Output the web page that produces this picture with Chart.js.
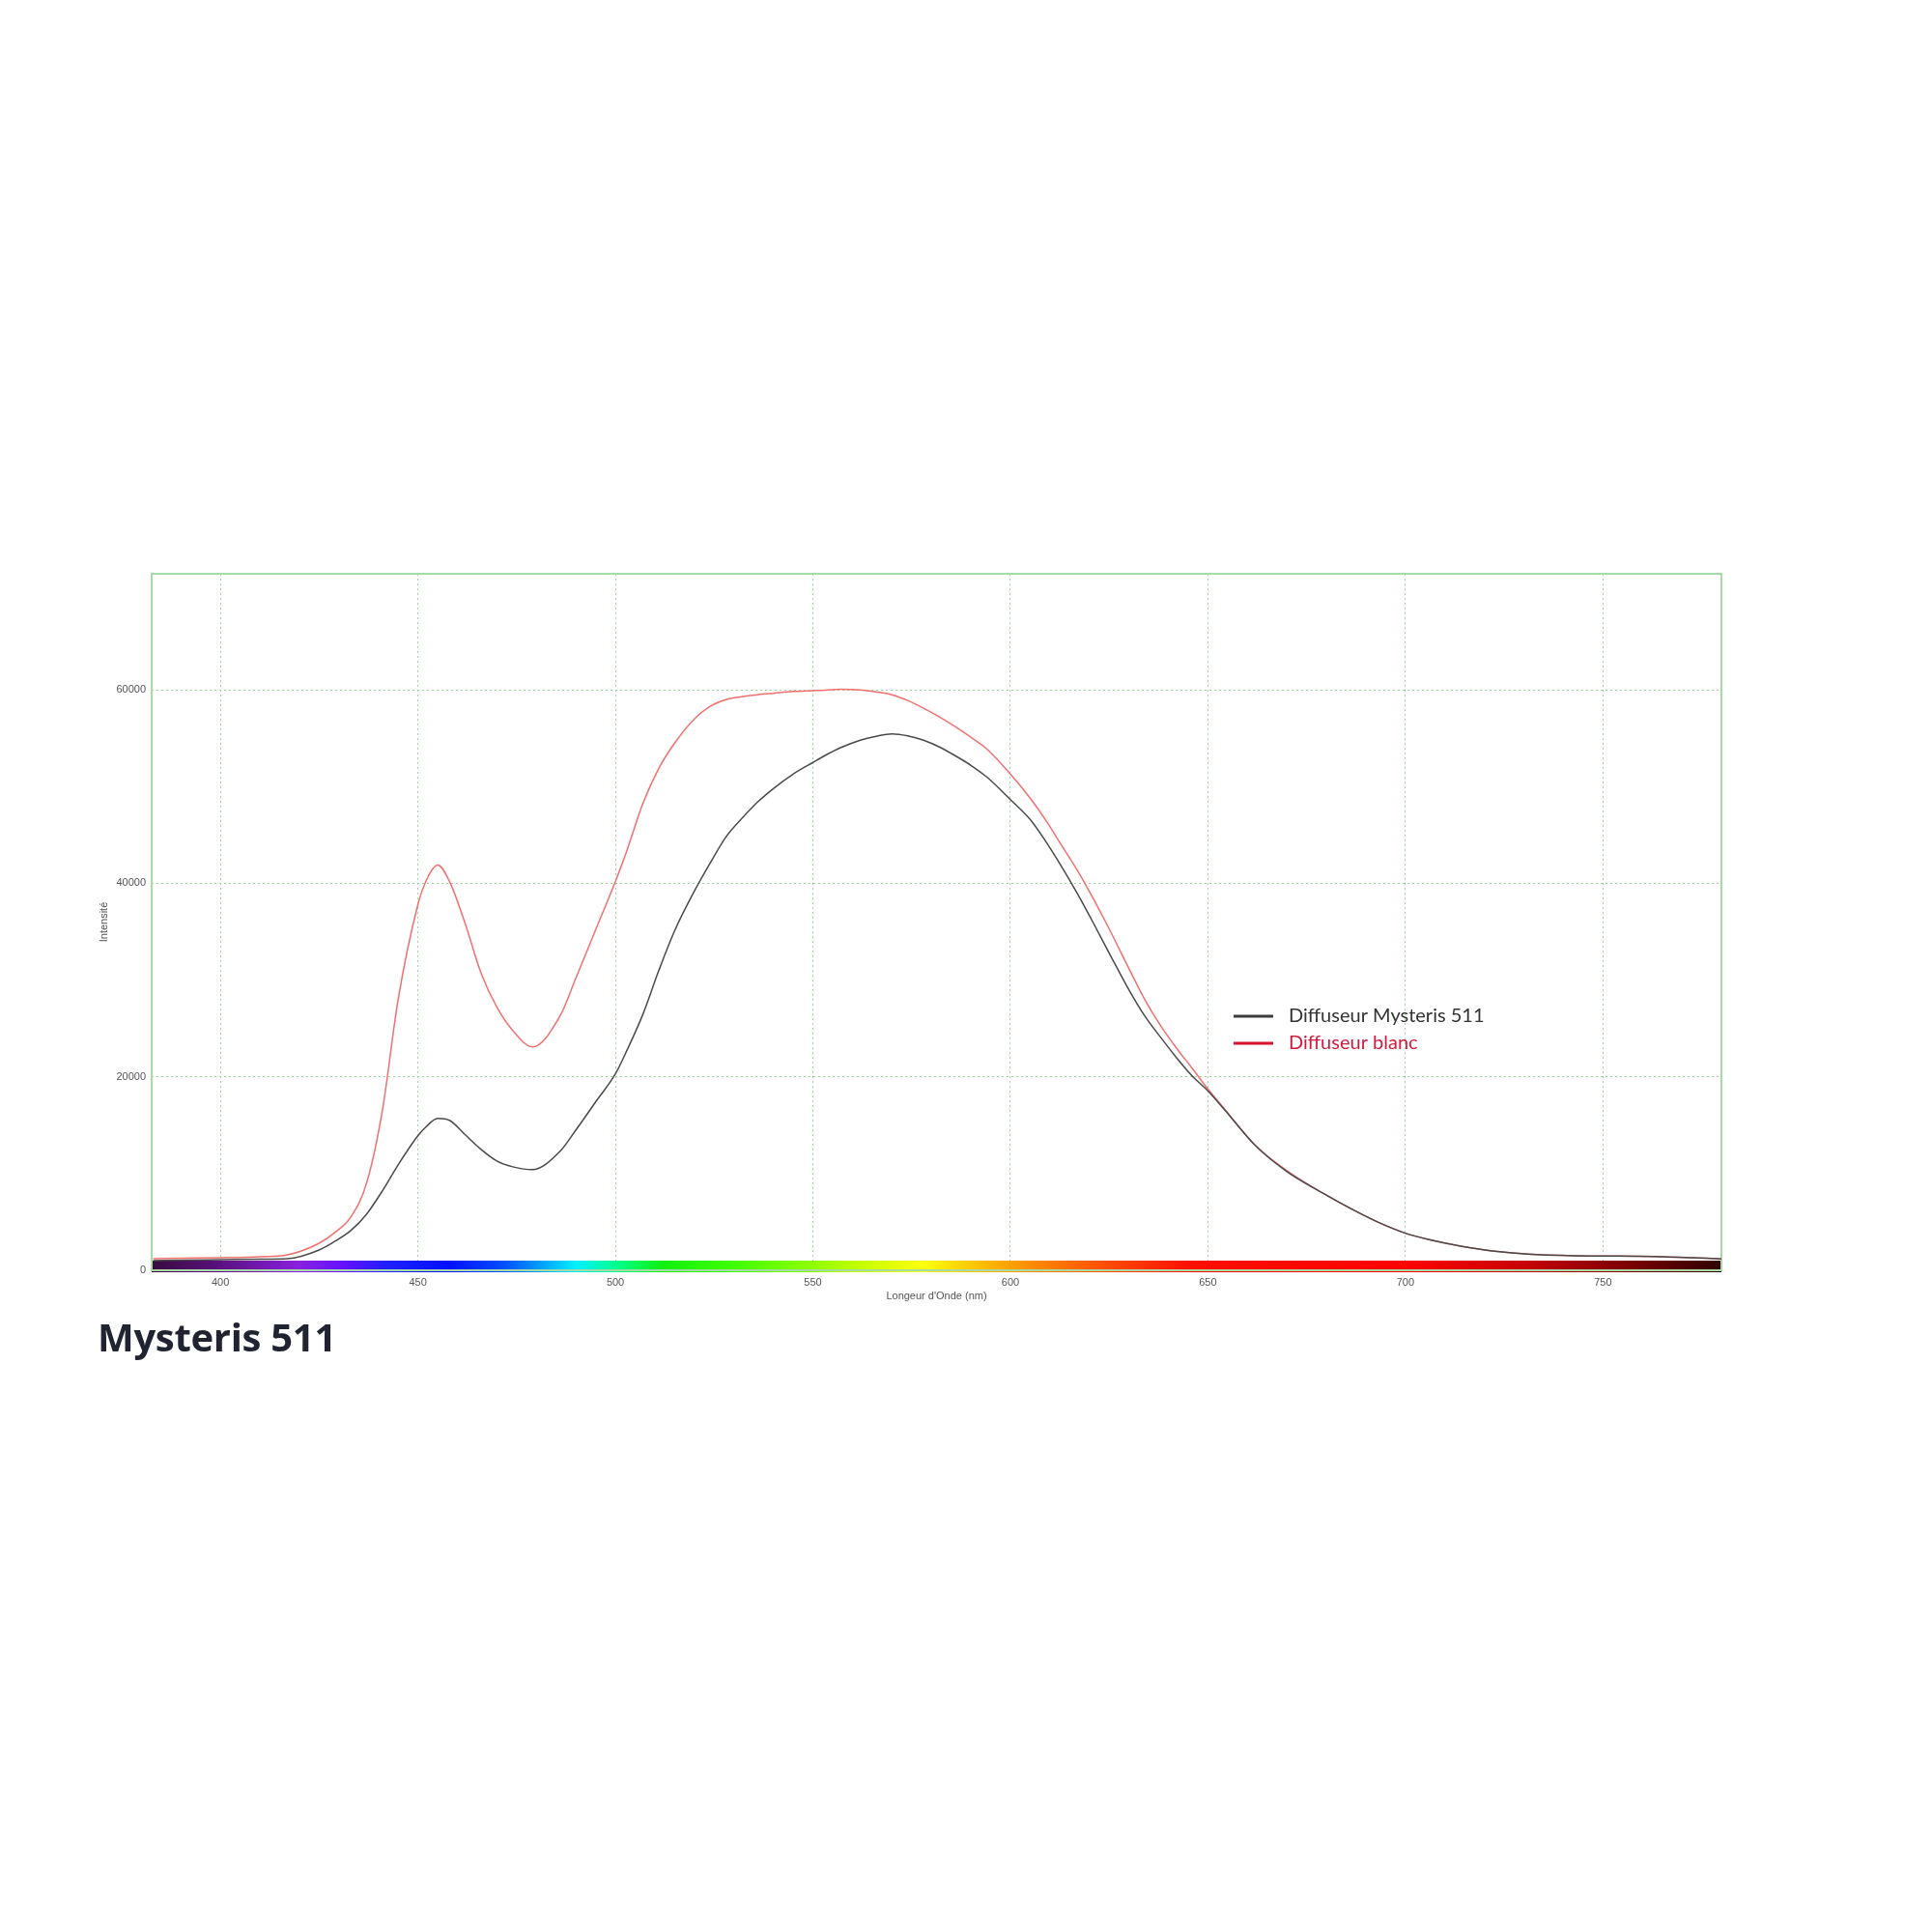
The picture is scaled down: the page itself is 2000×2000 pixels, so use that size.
<!DOCTYPE html>
<html>
<head>
<meta charset="utf-8">
<script src="https://cdn.jsdelivr.net/npm/chart.js@4.4.1/dist/chart.umd.min.js"></script>
<style>
    body { margin: 0; background: #fff; width: 2000px; height: 2000px; position: relative; }
    #chart { position: absolute; left: 0; top: 500px; }
    #title {
        position: absolute; left: 101px; top: 1358px;
        font-family: 'Open Sans', sans-serif; font-weight: 700; font-size: 40px;
        line-height: 52px; color: #1f2430; letter-spacing: -0.3px;
    }
</style>
</head>
<body>
<canvas id="chart" width="2000" height="900"></canvas>
<div id="title">Mysteris 511</div>
<script>
// Wavelengths (nm) shared by both spectra
const wavelengths = [383, 390, 400, 410, 417, 425, 429, 433, 437, 441, 445, 450, 452, 455, 458, 462, 466, 470, 474, 479, 486,
    490, 495, 500, 503, 507, 511, 515, 520, 524, 528, 532, 536, 540, 545, 550, 553, 557, 562, 566, 570,
    574, 578, 582, 586, 590, 594, 600, 605, 609, 613, 617, 621, 625, 630, 634, 638, 642, 646, 650, 654,
    662, 670, 679, 687, 694, 700, 706, 714, 722, 731, 743, 750, 763, 780];

const mysterisValues = [1000, 1050, 1100, 1150, 1200, 2100, 3000, 4100, 5800, 8200, 10900, 13900, 14800, 15700, 15500, 14000, 12500, 11300, 10700, 10400, 12300,
    14500, 17400, 20300, 22800, 26500, 31000, 35100, 39200, 42100, 44800, 46700, 48400, 49800, 51300, 52500, 53200, 54020, 54800, 55200, 55450,
    55250, 54800, 54100, 53200, 52200, 51000, 48660, 46600, 44300, 41700, 38900, 35900, 32800, 29000, 26300, 24100, 22000, 20100, 18540, 16700,
    12900, 10200, 8000, 6200, 4800, 3830, 3170, 2500, 2000, 1670, 1500, 1480, 1430, 1170];

const blancValues = [1200, 1250, 1300, 1400, 1600, 2800, 3900, 5500, 9000, 16500, 28000, 37800, 40200, 41900, 40200, 35800, 30700, 27200, 24800, 23100, 26300,
    30200, 35200, 40200, 43500, 48300, 51900, 54500, 57000, 58300, 59000, 59300, 59500, 59650, 59830, 59920, 59970, 60070, 60000, 59800, 59500,
    58900, 58100, 57200, 56200, 55100, 53900, 51300, 48800, 46500, 43900, 41300, 38400, 35300, 31200, 28000, 25300, 23000, 20900, 18740, 16770,
    12900, 10300, 8000, 6200, 4800, 3830, 3170, 2500, 2000, 1670, 1500, 1480, 1430, 1170];

const xTicks = [400, 450, 500, 550, 600, 650, 700, 750];
const yTicks = [0, 20000, 40000, 60000];

// colour band under the plot: wavelength -> colour
const spectrumNm = [383, 400, 420, 432, 442, 458, 472, 482, 490, 500, 512, 530, 550, 565, 578, 592, 606, 625, 645, 700, 730, 755, 780];
const spectrumColors = ['#3a0a40', '#5a1280', '#8a20e0', '#6010ff', '#2020ff', '#0010ff', '#0050ff', '#00a8ff', '#00f0ff', '#00ff90', '#10f010', '#40ff00', '#90ff00', '#d0ff00', '#ffff10', '#ffc000', '#ff8a00', '#ff4a00', '#ff1000', '#ff0000', '#c80000', '#800000', '#300000'];

const SERIES = [
    { label: 'Diffuseur Mysteris 511', values: mysterisValues, color: '#4a4a4a', textColor: '#333333', legendColor: '#3c3c3c' },
    { label: 'Diffuseur blanc', values: blancValues, color: '#f07070', textColor: '#d11b3c', legendColor: '#d8102e' }
];

const tickFont = { family: "'Liberation Sans', Arial, sans-serif", size: 11 };

// plot frame + spectrum band
const framePlugin = {
    id: 'frame',
    beforeDatasetsDraw(chart) {
        const { ctx, chartArea: ca, scales } = chart;
        const x = scales.x;
        ctx.save();
        const grad = ctx.createLinearGradient(ca.left, 0, ca.right, 0);
        spectrumNm.forEach((nm, i) => {
            const p = (x.getPixelForValue(nm) - ca.left) / (ca.right - ca.left);
            grad.addColorStop(Math.min(1, Math.max(0, p)), spectrumColors[i]);
        });
        ctx.fillStyle = grad;
        ctx.fillRect(ca.left, ca.bottom - 10, ca.right - ca.left, 12);
        ctx.strokeStyle = '#a6dba6';
        ctx.lineWidth = 2;
        ctx.strokeRect(ca.left, ca.top, ca.right - ca.left, ca.bottom - ca.top);
        ctx.restore();
    }
};

// legend drawn inside the plot area
const legendPlugin = {
    id: 'insideLegend',
    afterDraw(chart) {
        const { ctx, chartArea: ca } = chart;
        const x0 = ca.left + 1120;
        const y0 = ca.top + 458;
        ctx.save();
        ctx.font = "20px Lato, 'Open Sans', sans-serif";
        ctx.textBaseline = 'middle';
        chart.data.datasets.forEach((ds, i) => {
            const y = y0 + i * 28;
            ctx.strokeStyle = SERIES[i].legendColor;
            ctx.lineWidth = 3;
            ctx.beginPath();
            ctx.moveTo(x0, y);
            ctx.lineTo(x0 + 41, y);
            ctx.stroke();
            ctx.fillStyle = SERIES[i].textColor;
            ctx.fillText(ds.label, x0 + 57, y);
        });
        ctx.restore();
    }
};

const chart = new Chart(document.getElementById('chart'), {
    type: 'line',
    data: {
        datasets: SERIES.map(s => ({
            label: s.label,
            data: wavelengths.map((nm, i) => ({ x: nm, y: s.values[i] })),
            borderColor: s.color,
            borderWidth: 1.5,
            pointRadius: 0,
            fill: false,
            cubicInterpolationMode: 'monotone'
        }))
    },
    options: {
        responsive: false,
        devicePixelRatio: 1,
        animation: false,
        layout: { padding: { left: 97, top: 94, right: 218, bottom: 40 } },
        plugins: { legend: { display: false }, tooltip: { enabled: false } },
        scales: {
            x: {
                type: 'linear',
                min: 382.6,
                max: 780,
                afterBuildTicks: scale => { scale.ticks = xTicks.map(v => ({ value: v })); },
                afterFit: scale => { scale.height = 45; },
                ticks: { font: tickFont, color: '#555', padding: 6, maxRotation: 0 },
                grid: { color: '#9fd49f', lineWidth: 1, drawTicks: false },
                border: { display: false, dash: [2, 3] },
                title: { display: true, text: "Longeur d'Onde (nm)", font: tickFont, color: '#555', padding: { top: 0, bottom: 11 } }
            },
            y: {
                min: 0,
                max: 72000,
                afterBuildTicks: scale => { scale.ticks = yTicks.map(v => ({ value: v })); },
                afterFit: scale => { scale.width = 60; },
                ticks: { font: tickFont, color: '#555', padding: 6, callback: v => String(v) },
                grid: { color: '#9fd49f', lineWidth: 1, drawTicks: false },
                border: { display: false, dash: [2, 3] },
                title: { display: true, text: 'Intensité', font: tickFont, color: '#555', padding: { top: 4, bottom: 0 } }
            }
        }
    },
    plugins: [framePlugin, legendPlugin]
});
</script>
</body>
</html>
